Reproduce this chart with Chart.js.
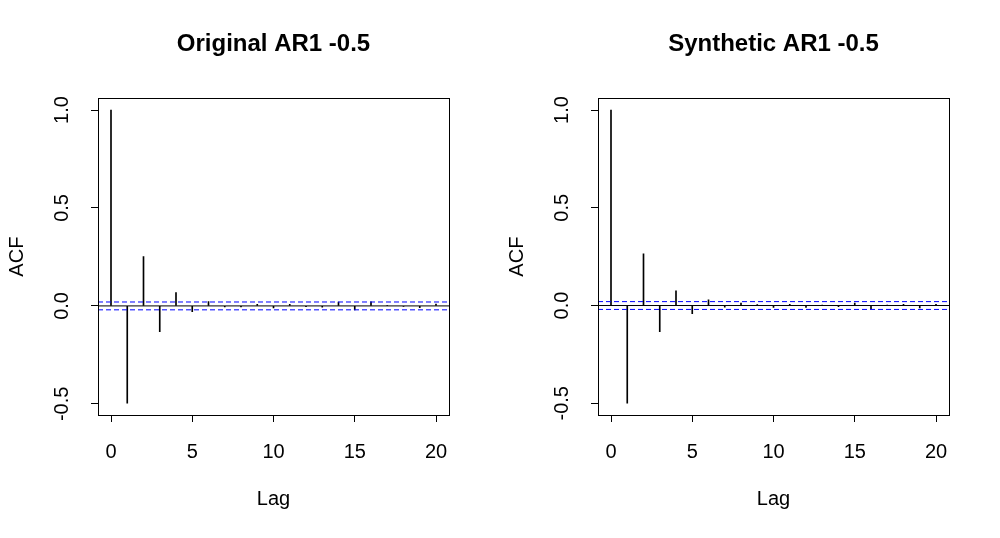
<!DOCTYPE html>
<html>
<head>
<meta charset="utf-8">
<script src="https://cdn.jsdelivr.net/npm/chart.js@4.4.1/dist/chart.umd.min.js"></script>
<style>
  html, body { margin: 0; padding: 0; background: #fff; }
  #wrap { position: relative; width: 1000px; height: 538px; }
  .panel { position: absolute; top: 0; width: 500px; height: 538px; }
</style>
</head>
<body>
<div id="wrap">
  <div class="panel" style="left:0"><canvas id="chart-0" width="500" height="538"></canvas></div>
  <div class="panel" style="left:500px"><canvas id="chart-1" width="500" height="538"></canvas></div>
</div>
<script>
const lags = [0, 1, 2, 3, 4, 5, 6, 7, 8, 9, 10, 11, 12, 13, 14, 15, 16, 17, 18, 19, 20];
const originalAcf = [1.0, -0.497, 0.252, -0.131, 0.068, -0.029, 0.022, -0.005, -0.005, 0.008, -0.010,
  0.008, -0.004, -0.006, 0.020, -0.020, 0.021, 0.002, -0.002, -0.009, 0.009];
const syntheticAcf = [1.0, -0.500, 0.264, -0.134, 0.075, -0.042, 0.029, -0.008, 0.012, 0.005, -0.010,
  0.006, -0.010, 0.002, -0.006, 0.012, -0.018, 0.002, 0.006, -0.012, 0.006];
const ciBound = 0.02;
const xTicks = [0, 5, 10, 15, 20];
const yTicks = [-0.5, 0.0, 0.5, 1.0];

const panels = [
  { id: 'chart-0', title: 'Original AR1 -0.5', acf: originalAcf },
  { id: 'chart-1', title: 'Synthetic AR1 -0.5', acf: syntheticAcf }
];

const FONT = "Arial, 'Liberation Sans', sans-serif";
Chart.defaults.font.family = FONT;
Chart.defaults.color = '#000';

// R style frame round the plot region
const boxPlugin = {
  id: 'box',
  afterDraw(chart) {
    const { ctx, chartArea: a } = chart;
    ctx.save();
    ctx.strokeStyle = '#000';
    ctx.lineWidth = 1;
    ctx.strokeRect(Math.round(a.left) + 0.5, Math.round(a.top) + 0.5,
      Math.round(a.right - a.left), Math.round(a.bottom - a.top));
    ctx.restore();
  }
};

function rangeWithPad(lo, hi) {
  const pad = (hi - lo) * 0.04;
  return [lo - pad, hi + pad];
}

function hline(y, color, dash) {
  return {
    type: 'line',
    data: [{ x: -0.8, y }, { x: 20.8, y }],
    borderColor: color,
    borderWidth: 1,
    borderDash: dash,
    pointRadius: 0,
    fill: false
  };
}

function makeChart(p) {
  const [yMin, yMax] = rangeWithPad(Math.min(...p.acf, -ciBound), Math.max(...p.acf, ciBound));
  new Chart(document.getElementById(p.id), {
    type: 'bar',
    data: {
      datasets: [
        hline(0, '#000', []),
        hline(ciBound, '#0000ff', [5, 3]),
        hline(-ciBound, '#0000ff', [5, 3]),
        {
          type: 'bar',
          data: lags.map((l, i) => ({ x: l, y: [0, p.acf[i]] })),
          backgroundColor: '#000',
          borderWidth: 0,
          barThickness: 1
        }
      ]
    },
    options: {
      responsive: false,
      animation: false,
      devicePixelRatio: 1,
      layout: { padding: { left: 0, right: 51, top: 0, bottom: 0 } },
      plugins: {
        legend: { display: false },
        tooltip: { enabled: false },
        title: {
          display: true,
          text: p.title,
          fullSize: false,
          font: { size: 24, weight: 'bold', family: FONT },
          color: '#000',
          padding: { top: 30, bottom: 39.5 }
        }
      },
      scales: {
        x: {
          type: 'linear',
          min: -0.8,
          max: 20.8,
          offset: false,
          afterFit: s => { s.height = 123; },
          afterBuildTicks: s => { s.ticks = xTicks.map(v => ({ value: v })); },
          grid: { drawOnChartArea: false, drawTicks: true, tickLength: 7, color: '#000', offset: false },
          border: { display: false },
          ticks: { font: { size: 20 }, padding: 18, maxRotation: 0, autoSkip: false },
          title: { display: true, text: 'Lag', font: { size: 20 }, padding: { top: 0, bottom: 27 } }
        },
        y: {
          min: yMin,
          max: yMax,
          afterFit: s => { s.width = 98; },
          afterBuildTicks: s => { s.ticks = yTicks.map(v => ({ value: v })); },
          grid: { drawOnChartArea: false, drawTicks: true, tickLength: 7, color: '#000' },
          border: { display: false },
          ticks: {
            font: { size: 20 },
            minRotation: 90,
            maxRotation: 90,
            crossAlign: 'center',
            padding: 11,
            callback: v => v.toFixed(1)
          },
          title: { display: true, text: 'ACF', font: { size: 20 }, padding: { top: 5, bottom: 0 } }
        }
      }
    },
    plugins: [boxPlugin]
  });
}

panels.forEach(makeChart);
</script>
</body>
</html>
